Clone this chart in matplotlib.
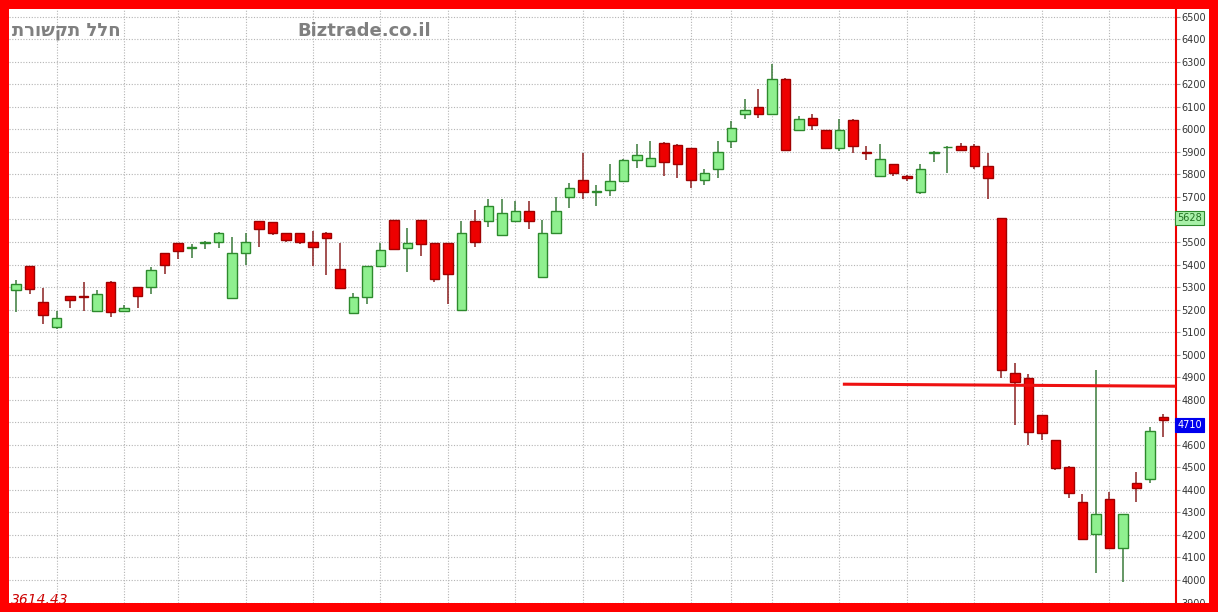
import matplotlib
matplotlib.use("Agg")
import matplotlib.pyplot as plt
from matplotlib.patches import Rectangle

# daily candles
opens = [5285, 5392, 5232, 5121, 5259, 5262, 5192, 5321, 5195, 5299,
         5299, 5449, 5494, 5474, 5496, 5498, 5250, 5449, 5591, 5587,
         5538, 5538, 5498, 5542, 5378, 5183, 5254, 5392, 5596, 5472,
         5596, 5494, 5494, 5197, 5591, 5591, 5529, 5591, 5636, 5343,
         5538, 5698, 5773, 5722, 5729, 5769, 5866, 5839, 5941, 5932,
         5915, 5773, 5826, 5950, 6070, 6097, 6070, 6225, 5995, 6052,
         5995, 5915, 6043, 5899, 5791, 5844, 5795, 5724, 5895, 5920,
         5928, 5924, 5839, 5605, 4917, 4895, 4731, 4620, 4501, 4345,
         4203, 4359, 4142, 4430, 4447, 4722]
highs = [5330, 5395, 5294, 5192, 5262, 5321, 5285, 5325, 5219, 5302,
         5387, 5452, 5497, 5492, 5504, 5545, 5520, 5542, 5595, 5590,
         5540, 5540, 5547, 5545, 5494, 5272, 5395, 5494, 5598, 5560,
         5598, 5496, 5496, 5591, 5640, 5693, 5693, 5684, 5684, 5596,
         5698, 5764, 5893, 5751, 5848, 5870, 5937, 5950, 5945, 5935,
         5918, 5822, 5950, 6039, 6136, 6181, 6292, 6228, 6061, 6070,
         5998, 6048, 6046, 5928, 5937, 5847, 5798, 5844, 5906, 5924,
         5941, 5937, 5893, 5608, 4962, 4913, 4734, 4623, 4504, 4381,
         4931, 4390, 4295, 4478, 4678, 4736]
lows = [5188, 5268, 5135, 5115, 5206, 5192, 5190, 5166, 5190, 5206,
        5268, 5356, 5423, 5427, 5467, 5472, 5248, 5396, 5476, 5532,
        5502, 5490, 5392, 5352, 5292, 5180, 5223, 5390, 5465, 5365,
        5440, 5321, 5223, 5195, 5480, 5565, 5527, 5589, 5556, 5341,
        5536, 5649, 5693, 5658, 5702, 5767, 5830, 5832, 5795, 5782,
        5738, 5751, 5782, 5915, 6048, 6052, 6068, 5908, 5993, 5995,
        5912, 5906, 5897, 5862, 5789, 5795, 5769, 5711, 5857, 5804,
        5902, 5826, 5693, 4895, 4687, 4598, 4620, 4490, 4363, 4178,
        4031, 4140, 3991, 4345, 4430, 4634]
closes = [5312, 5290, 5175, 5161, 5243, 5258, 5268, 5190, 5208, 5259,
          5374, 5396, 5458, 5478, 5500, 5542, 5449, 5498, 5556, 5538,
          5511, 5498, 5476, 5516, 5294, 5254, 5392, 5463, 5467, 5494,
          5489, 5338, 5356, 5542, 5498, 5658, 5627, 5636, 5591, 5542,
          5636, 5738, 5724, 5727, 5769, 5866, 5884, 5875, 5857, 5848,
          5777, 5808, 5901, 6008, 6088, 6066, 6225, 5910, 6048, 6021,
          5915, 5995, 5928, 5895, 5870, 5804, 5782, 5826, 5899, 5922,
          5910, 5838, 5782, 4931, 4877, 4656, 4651, 4496, 4385, 4181,
          4292, 4142, 4292, 4408, 4660, 4710]

# first candle of each week (vertical grid)
week_starts = [3, 8, 12, 17, 22, 27, 32, 37, 42, 45, 50, 53, 56, 61, 66, 71, 76, 81]
price_ticks = list(range(3900, 6600, 100))
hidden_ticks = [5600, 4700]  # covered by the value boxes

# red horizontal line
line_x = [61.25, 86]
line_y = [4869, 4860]

ma_value = 5628
last_value = 4710
low_label = "3614.43"

W, H = 1218, 612
fig = plt.figure(figsize=(W / 100, H / 100), dpi=100, facecolor="white")
ax = fig.add_axes([9 / W, 9 / H, (1176 - 9) / W, (603 - 9) / H])

n = len(opens)
xs = list(range(n))
ax.set_xlim(-0.52, 85.93)
ax.set_ylim(3898, 6534)

for i in xs:
    o, h, l, c = opens[i], highs[i], lows[i], closes[i]
    up = c >= o
    body = "#8ff08f" if up else "#ee0000"
    edge = "#2d8a2d" if up else "#a00000"
    wick = "#3a7a3a" if up else "#8a2020"
    ax.vlines(i, l, h, color=wick, lw=1.1, zorder=2)
    lo = min(o, c)
    ht = max(abs(c - o), 2)
    ax.bar(i, ht, bottom=lo, width=0.68, color=body, edgecolor=edge, lw=1.0, zorder=3)

ax.plot(line_x, line_y, color="#ee1111", lw=2.2, zorder=4, solid_capstyle="butt")

ax.set_xticks(week_starts)
ax.set_xticklabels([])
ax.set_yticks(price_ticks)
ax.set_yticklabels(["" if p in hidden_ticks else str(p) for p in price_ticks])
ax.grid(True, linestyle=(0, (1, 1.5)), color="#b4b4b4", lw=0.8, zorder=0)
ax.set_axisbelow(True)

ax.yaxis.tick_right()
ax.tick_params(axis="y", direction="out", length=3, width=0.8, color="#999999",
               labelsize=7, labelcolor="#333333", pad=1)
ax.tick_params(axis="x", length=0)
for s in ["left", "top", "bottom"]:
    ax.spines[s].set_visible(False)
ax.spines["right"].set_color("#ee0000")
ax.spines["right"].set_linewidth(1.5)

# value boxes on the price scale
tr = ax.get_yaxis_transform()
ax.text(1.001, ma_value, str(ma_value), transform=tr, ha="left", va="top",
        fontsize=7, color="#1f6f1f", clip_on=False,
        bbox=dict(boxstyle="square,pad=0.18", fc="#a8f0a8", ec="#2d8a2d", lw=0.8))
ax.text(1.001, last_value, str(last_value), transform=tr, ha="left", va="top",
        fontsize=7, color="white", clip_on=False,
        bbox=dict(boxstyle="square,pad=0.18", fc="#0000ee", ec="#0000ee", lw=0.8))

# watermark texts
fig.text(12 / W, 1 - 31 / H, "חלל תקשורת"[::-1], ha="left", va="center",
         fontsize=13, fontweight="bold", color="#808080")
fig.text(297 / W, 1 - 31 / H, "Biztrade.co.il", ha="left", va="center",
         fontsize=13, fontweight="bold", color="#808080")
fig.text(11 / W, 1 - 593 / H, low_label, ha="left", va="top",
         fontsize=10, style="italic", color="#cc0000", zorder=5)

# red frame
red = "#ff0000"
for x0, y0, w, h in [(0, 0, W, 9), (0, H - 9, W, 9), (0, 0, 9, H), (W - 9, 0, 9, H)]:
    fig.add_artist(Rectangle((x0 / W, y0 / H), w / W, h / H, transform=fig.transFigure,
                             facecolor=red, edgecolor="none", zorder=10))

fig.savefig("out.png", dpi=100, facecolor="white")
